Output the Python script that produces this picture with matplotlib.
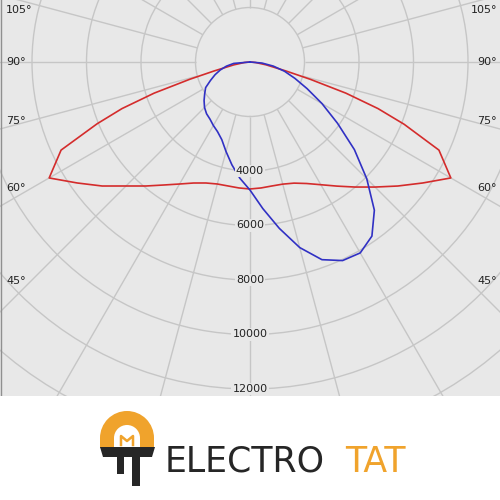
import numpy as np
import matplotlib
matplotlib.use('Agg')
import matplotlib.pyplot as plt
from matplotlib.patches import Wedge, Rectangle, Polygon
from matplotlib.lines import Line2D

# gamma angles (deg from nadir) and intensities (cd)
gamma_red = [0, 5, 10, 15, 20, 25, 30, 35, 40, 45, 50, 55, 60, 65, 68, 70, 72, 74, 76, 80, 85, 90]
red_c0 = [4660, 4640, 4620, 4640, 4730, 4920, 5200, 5560, 5990, 6490, 7080, 7740, 8510,
          7650, 6100, 5000, 3700, 2300, 1350, 600, 200, 0]
red_c180 = [4660, 4640, 4620, 4635, 4725, 4900, 5170, 5510, 5940, 6435, 7080, 7740, 8510,
            7650, 6050, 5000, 3700, 2300, 1350, 600, 200, 0]

gamma_blue = [0, 5, 10, 15, 20, 25, 30, 35, 40, 45, 50, 55, 60, 65, 70, 75, 80, 85, 90]
blue_c90 = [4700, 5400, 6200, 7050, 7720, 8040, 8090, 7800, 7100, 6060, 5000, 3920, 3050,
            2310, 1750, 1310, 870, 440, 0]
blue_c270 = [4700, 4280, 3830, 3400, 3030, 2820, 2690, 2560, 2480, 2360, 2200, 2030, 1880,
             1600, 1365, 1130, 880, 600, 0]

ring_labels = [4000, 6000, 8000, 10000, 12000]
angle_labels = [45, 60, 75, 90, 105]

bg = '#e8e8e8'
gridc = '#c6c6c6'
txtc = '#222222'
orange = '#f0a32c'
dark = '#262626'

fig = plt.figure(figsize=(5, 5), dpi=100)
fig.patch.set_facecolor('white')

# polar axes placed so the pole sits near the top of the picture
rmax = 16000
scale = 54.5 / 2000  # pixels per cd
rad_px = rmax * scale
cx, cy = 250, 500 - 62
ax = fig.add_axes([(cx - rad_px) / 500, (cy - rad_px) / 500, 2 * rad_px / 500, 2 * rad_px / 500],
                  projection='polar')
ax.set_theta_zero_location('S')
ax.set_ylim(0, rmax)
ax.set_facecolor(bg)
ax.spines['polar'].set_visible(False)
ax.set_xticks([])
ax.set_yticks(np.arange(2000, rmax + 1, 2000))
ax.set_yticklabels([])
ax.grid(True, axis='y', color=gridc, lw=1)
ax.vlines(np.radians(np.arange(0, 360, 15)), 2000, rmax, color=gridc, lw=1, zorder=1)

# C0-C180 plane
g = np.radians(gamma_red)
th = np.concatenate([-g[::-1], g[1:]])
r = np.concatenate([np.array(red_c180)[::-1], np.array(red_c0)[1:]])
ax.plot(th, r, color='#d42c2c', lw=1.2, zorder=3)

# C90-C270 plane
g = np.radians(gamma_blue)
th = np.concatenate([-g[::-1], g[1:]])
r = np.concatenate([np.array(blue_c270)[::-1], np.array(blue_c90)[1:]])
ax.plot(th, r, color='#3131c4', lw=1.2, zorder=3)

for v in ring_labels:
    ax.text(0, v, str(v), ha='center', va='center', fontsize=8, color=txtc,
            bbox=dict(boxstyle='square,pad=0.1', fc=bg, ec='none'), zorder=5)

d = 219 / scale
for a in angle_labels:
    t = np.radians(a)
    rr = d / np.sin(t)
    dy = -7 if a > 100 else 0
    ax.annotate(f'{a}°', xy=(-t, rr), xytext=(-25, dy), textcoords='offset pixels',
                ha='left', va='center', fontsize=8, color=txtc, zorder=5)
    ax.annotate(f'{a}°', xy=(t, rr), xytext=(28, dy), textcoords='offset pixels',
                ha='right', va='center', fontsize=8, color=txtc, zorder=5)

fig.add_artist(Line2D([0.001, 0.001], [104 / 500, 1], transform=fig.transFigure,
                      color='#909090', lw=1))

# logo strip
lax = fig.add_axes([0, 0, 1, 104 / 500])
lax.set_zorder(2)
lax.set_xlim(0, 500)
lax.set_ylim(500, 396)
lax.set_axis_off()
lax.add_patch(Rectangle((0, 396), 500, 104, fc='white', ec='none', zorder=0))
lax.add_patch(Wedge((127, 438), 27, 180, 360, width=14, fc=orange, ec='none'))
lax.add_patch(Rectangle((100, 438), 14, 10, fc=orange, ec='none'))
lax.add_patch(Rectangle((140, 438), 14, 10, fc=orange, ec='none'))
lax.plot([121, 121, 127, 133, 133], [445, 436, 441, 436, 445], color=orange, lw=1.8)
lax.add_patch(Polygon([(100, 447), (155, 447), (152, 457), (103, 457)], fc=dark, ec='none'))
lax.add_patch(Rectangle((117, 457), 7, 17, fc=dark, ec='none'))
lax.add_patch(Rectangle((132, 457), 8, 29, fc=dark, ec='none'))
lax.text(165, 462, 'ELECTRO', fontsize=25, color=dark, ha='left', va='center')
lax.text(345, 462, 'TAT', fontsize=25, color=orange, ha='left', va='center')

fig.savefig('out.png', dpi=100, facecolor='white')
